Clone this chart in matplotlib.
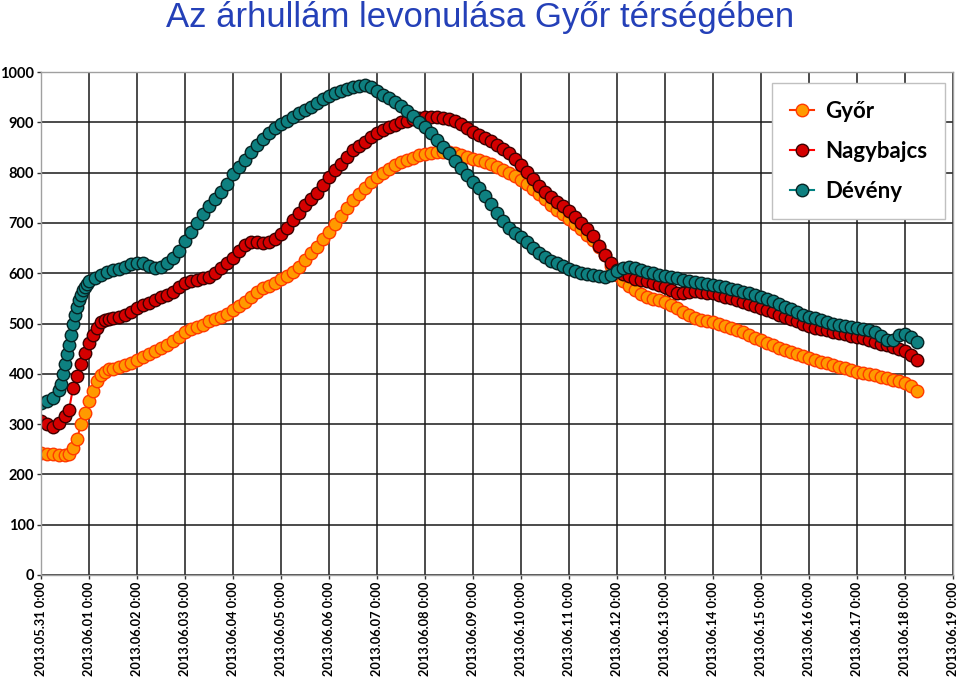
import matplotlib
matplotlib.use("Agg")
import matplotlib.pyplot as plt
import numpy as np

# --- data (water level, cm) ---
day_labels = ["2013.05.31 0:00", "2013.06.01 0:00", "2013.06.02 0:00", "2013.06.03 0:00",
              "2013.06.04 0:00", "2013.06.05 0:00", "2013.06.06 0:00", "2013.06.07 0:00",
              "2013.06.08 0:00", "2013.06.09 0:00", "2013.06.10 0:00", "2013.06.11 0:00",
              "2013.06.12 0:00", "2013.06.13 0:00", "2013.06.14 0:00", "2013.06.15 0:00",
              "2013.06.16 0:00", "2013.06.17 0:00", "2013.06.18 0:00", "2013.06.19 0:00"]

# hours since 2013.05.31 0:00
gyor_hours = [0, 3, 6, 9] + list(range(12, 36, 2)) + list(range(36, 439, 3))
gyor = [242, 241, 241, 239,
        238, 241, 252, 270, 300, 322, 345, 366, 385, 398, 404, 409,
        410, 413, 417, 422, 428, 434, 440, 446, 452, 458, 465, 474, 484, 490,
        494, 498, 504, 508, 512, 518, 526, 534, 543, 553, 563, 570, 575, 581,
        588, 595, 603, 613, 627, 640, 653, 667, 682, 698, 714, 730, 745, 757,
        769, 781, 792, 800, 808, 815, 822, 826, 830, 834, 837, 839, 840, 841,
        840, 838, 835, 832, 828, 825, 821, 817, 812, 806, 800, 793, 785, 777,
        768, 758, 747, 736, 726, 717, 708, 698, 688, 676, 666, 652, 636, 615,
        597, 585, 575, 566, 558, 553, 549, 546, 543, 537, 530, 523, 516, 511,
        507, 505, 503, 500, 495, 491, 487, 483, 478, 472, 467, 462, 457, 452,
        447, 443, 439, 435, 431, 428, 424, 421, 418, 414, 411, 408, 404, 402,
        399, 397, 394, 391, 388, 385, 382, 376, 365]

nagy_hours = [0, 3, 6, 9] + list(range(12, 36, 2)) + list(range(36, 439, 3))
nagybajcs = [306, 301, 295, 302,
             316, 328, 372, 395, 420, 442, 462, 478, 492, 502, 507, 509,
             511, 513, 517, 523, 530, 536, 541, 546, 552, 557, 563, 572, 580, 584,
             587, 590, 593, 600, 610, 620, 630, 645, 656, 663, 662, 660, 662, 668,
             678, 690, 705, 720, 735, 748, 760, 776, 792, 805, 818, 832, 845, 853,
             861, 870, 878, 884, 890, 895, 900, 903, 906, 908, 910, 910, 910, 909,
             907, 902, 896, 888, 880, 874, 868, 862, 854, 846, 838, 828, 815, 802,
             788, 774, 762, 752, 742, 733, 724, 712, 700, 688, 673, 655, 637, 620,
             606, 598, 594, 589, 586, 584, 581, 577, 573, 566, 561, 560, 562, 564,
             563, 561, 560, 557, 553, 550, 547, 543, 539, 535, 531, 527, 522, 517,
             513, 508, 504, 499, 495, 492, 490, 487, 484, 482, 479, 476, 473, 471,
             468, 464, 460, 457, 454, 450, 446, 438, 428]

dev_hours = [0, 3, 6, 9] + list(range(10, 24)) + list(range(24, 439, 3))
deveny = [342, 346, 352, 368,
          380, 400, 420, 440, 458, 478, 500, 516, 532, 546, 557, 566, 573, 579,
          584, 591, 597, 602, 606, 609, 613, 618, 621, 620, 614, 611, 613, 620,
          630, 645, 664, 682, 700, 718, 734, 748, 762, 778, 797, 811, 825, 840,
          855, 867, 878, 888, 896, 903, 910, 918, 925, 930, 938, 946, 952, 958,
          962, 966, 970, 973, 974, 970, 962, 955, 948, 940, 932, 922, 912, 900,
          890, 878, 864, 850, 838, 824, 810, 796, 782, 770, 754, 738, 720, 704,
          690, 680, 672, 662, 650, 640, 632, 625, 620, 614, 609, 604, 600, 598,
          596, 594, 592, 596, 604, 610, 612, 610, 606, 603, 600, 597, 594, 592,
          590, 587, 585, 583, 580, 578, 577, 574, 572, 569, 566, 563, 560, 557,
          553, 549, 544, 539, 533, 528, 522, 517, 513, 510, 507, 503, 500, 498,
          496, 494, 492, 490, 488, 484, 476, 468, 468, 478, 480, 474, 463]

y_ticks = [0, 100, 200, 300, 400, 500, 600, 700, 800, 900, 1000]

fig = plt.figure(figsize=(9.6, 6.82), dpi=100)
ax = fig.add_axes([41 / 960, 1 - 575 / 682, (953 - 41) / 960, (575 - 72) / 682])

series = [
    (gyor_hours, gyor, "Győr", "#ff3300", "#ff9a00", "#ff3a00"),
    (nagy_hours, nagybajcs, "Nagybajcs", "#ff0000", "#d40000", "#3c0000"),
    (dev_hours, deveny, "Dévény", "#008080", "#0e8080", "#062424"),
]
for hours, vals, name, lc, fc, ec in series:
    ax.plot(np.array(hours) / 24.0, vals, "-", color=lc, lw=1.5,
            marker="o", ms=9, mfc=fc, mec=ec, mew=1.0, label=name)

ax.set_xlim(0, 19)
ax.set_ylim(0, 1000)
ax.set_xticks(range(len(day_labels)))
ax.set_xticklabels(day_labels, rotation=90, fontsize=9.2, fontweight="bold",
                   family="Lato")
ax.set_yticks(y_ticks)
ax.set_yticklabels([str(v) for v in y_ticks], fontsize=10.5, fontweight="bold",
                   family="Lato")
ax.tick_params(axis="both", length=3, width=1, color="#333333", pad=2)
ax.grid(True, color="#1a1a1a", lw=1.1)
ax.set_axisbelow(True)
for sp in ax.spines.values():
    sp.set_color("#a0a0a0")
    sp.set_linewidth(1)

fig.text(0.5, 1 - 17 / 682, "Az árhullám levonulása Győr térségében",
         ha="center", va="center", fontsize=25, color="#2440b8",
         family="Liberation Sans")

leg = ax.legend(loc="upper right", bbox_to_anchor=(945 / 960, 1 - 83 / 682),
                bbox_transform=fig.transFigure, prop={"family": "Lato",
                                                      "weight": "bold", "size": 16},
                frameon=True, fancybox=False, edgecolor="#c0c0c0",
                handlelength=1.1, labelspacing=0.85, borderpad=0.8,
                handletextpad=0.5, borderaxespad=0, markerscale=1.0)
leg.get_frame().set_linewidth(1)
leg.get_frame().set_alpha(1)

fig.savefig("out.png", dpi=100)
